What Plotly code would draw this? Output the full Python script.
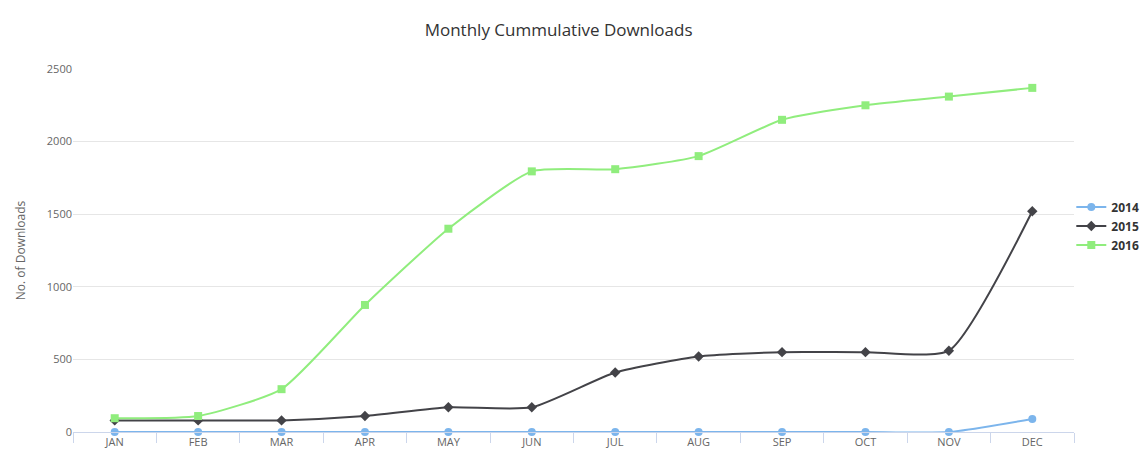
import plotly.graph_objects as go

months = ["JAN", "FEB", "MAR", "APR", "MAY", "JUN", "JUL", "AUG", "SEP", "OCT", "NOV", "DEC"]
downloads_2014 = [0, 0, 0, 0, 0, 0, 0, 0, 0, 0, 0, 90]
downloads_2015 = [80, 80, 80, 110, 170, 170, 410, 520, 550, 550, 560, 1520]
downloads_2016 = [95, 110, 295, 875, 1400, 1795, 1810, 1900, 2150, 2250, 2310, 2370]
y_ticks = [0, 500, 1000, 1500, 2000, 2500]

series = [
    ("2014", downloads_2014, "#7cb5ec", "circle", 8),
    ("2015", downloads_2015, "#434348", "diamond", 8),
    ("2016", downloads_2016, "#90ed7d", "square", 8),
]

fig = go.Figure()
for name, values, color, symbol, size in series:
    fig.add_trace(go.Scatter(
        x=months, y=values, name=name, mode="lines+markers",
        line=dict(color=color, width=2, shape="spline", smoothing=0.55),
        marker=dict(color=color, symbol=symbol, size=size),
        cliponaxis=False,
    ))

font_family = "Open Sans, Lato, sans-serif"
fig.update_layout(
    width=1147, height=457,
    margin=dict(l=73, r=73, t=69, b=25, autoexpand=False),
    paper_bgcolor="white", plot_bgcolor="white",
    font=dict(family=font_family, color="#666666", size=11),
    title=dict(text="Monthly Cummulative Downloads", x=0.487, xanchor="center",
               y=0.935, yanchor="middle",
               font=dict(size=17, color="#333333", family=font_family)),
    showlegend=True,
    legend=dict(xref="container", x=0.934, xanchor="left", y=0.5675, yanchor="middle",
                font=dict(size=12, color="#333333", family=font_family, weight="bold"),
                itemwidth=30, tracegroupgap=0, bgcolor="rgba(0,0,0,0)"),
    xaxis=dict(
        type="category", showgrid=False, zeroline=False,
        showline=True, linecolor="#ccd6eb", linewidth=1,
        ticks="outside", tickson="boundaries", ticklen=10, tickcolor="#ccd6eb",
        tickfont=dict(size=11, color="#666666"),
        range=[-0.5, 11.5],
    ),
    yaxis=dict(
        range=[0, 2500], tickvals=y_ticks, showgrid=True, gridcolor="#e6e6e6",
        zeroline=False, showline=False, ticks="",
        tickfont=dict(size=11, color="#666666"),
        title=dict(text="No. of Downloads", font=dict(size=12, color="#666666"), standoff=18),
    ),
)

fig.write_html("out.html")
